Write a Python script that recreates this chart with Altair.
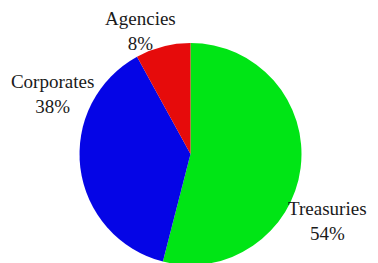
import altair as alt
import pandas as pd

categories = ["Treasuries", "Corporates", "Agencies"]
values = [54, 38, 8]
colors = ["#00e515", "#0505e6", "#e60b0b"]

df = pd.DataFrame({
    "category": categories,
    "value": values,
    "order": [0, 1, 2],
})
df["label"] = df["category"] + "\n" + df["value"].astype(str) + "%"
total = df["value"].sum()
df["mid"] = df["value"].cumsum() - df["value"] / 2

CX, CY = 182.5, 146

base = alt.Chart(df).encode(
    theta=alt.Theta("value:Q", stack=True, scale=alt.Scale(domain=[0, total])),
    order=alt.Order("order:Q"),
)

pie = base.mark_arc(outerRadius=111).encode(
    x=alt.value(CX), y=alt.value(CY),
    color=alt.Color("category:N", scale=alt.Scale(domain=categories, range=colors), legend=None),
)

def label_layer(cat, r, dx, dy):
    return alt.Chart(df).transform_filter(alt.datum.category == cat).mark_text(
        radius=r, dx=dx, dy=dy, font="Liberation Serif", fontSize=19,
        lineBreak="\n", lineHeight=25, align="center", baseline="middle", color="#1a1a1a",
    ).encode(
        theta=alt.Theta("mid:Q", scale=alt.Scale(domain=[0, total])),
        x=alt.value(CX), y=alt.value(CY),
        text="label:N",
    )

labels = [
    label_layer("Treasuries", 150, -12, 36),
    label_layer("Corporates", 140, 1, -90),
    label_layer("Agencies", 125, -19, -14),
]

chart = alt.layer(pie, *labels).properties(
    width=362, height=255, padding=0, autosize="none"
).configure_view(stroke=None)

chart.save("out.html", embed_options={"renderer": "svg", "actions": False})
